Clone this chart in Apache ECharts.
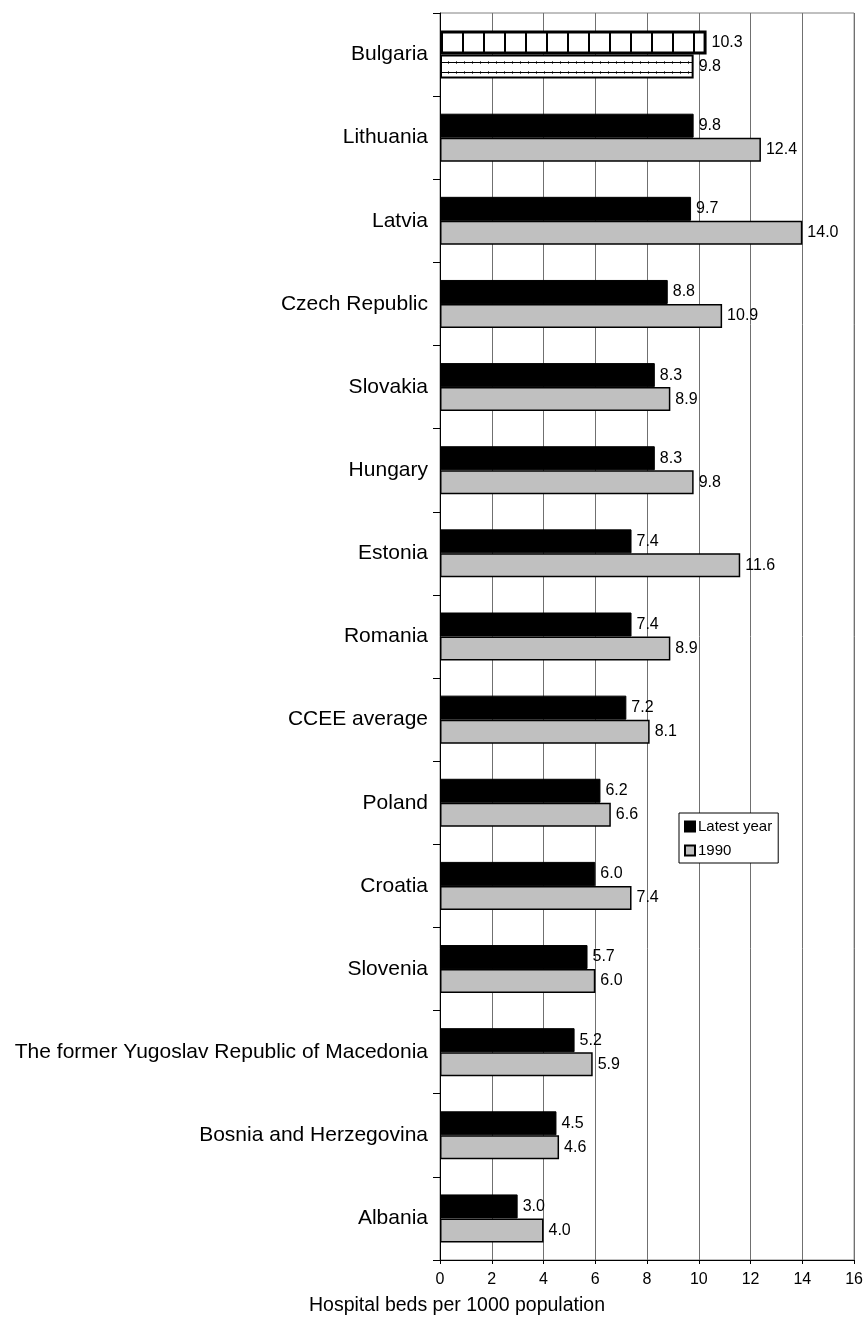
<!DOCTYPE html>
<html>
<head>
<meta charset="utf-8">
<script src="https://cdn.jsdelivr.net/npm/echarts@6/dist/echarts.min.js"></script>
<style>
html,body{margin:0;padding:0;background:#fff;}
#c{width:866px;height:1331px;}
</style>
</head>
<body>
<div id="c"></div>
<script>
const categories = ["Bulgaria","Lithuania","Latvia","Czech Republic","Slovakia","Hungary","Estonia","Romania","CCEE average","Poland","Croatia","Slovenia","The former Yugoslav Republic of Macedonia","Bosnia and Herzegovina","Albania"];
const latestYear = [10.3, 9.8, 9.7, 8.8, 8.3, 8.3, 7.4, 7.4, 7.2, 6.2, 6.0, 5.7, 5.2, 4.5, 3.0];
const year1990 = [9.8, 12.4, 14.0, 10.9, 8.9, 9.8, 11.6, 8.9, 8.1, 6.6, 7.4, 6.0, 5.9, 4.6, 4.0];
const seriesNames = ["Latest year", "1990"];
const axisTitle = "Hospital beds per 1000 population";

function vPattern() {
  const c = document.createElement('canvas');
  c.width = 21; c.height = 10;
  const g = c.getContext('2d');
  g.fillStyle = '#fff'; g.fillRect(0,0,21,10);
  g.fillStyle = '#000'; g.fillRect(0,0,2,10);
  return c;
}
function hPattern() {
  const c = document.createElement('canvas');
  c.width = 8; c.height = 10;
  const g = c.getContext('2d');
  g.fillStyle = '#fff'; g.fillRect(0,0,8,10);
  g.fillStyle = '#000'; g.fillRect(0,2,8,1);
  g.fillStyle = '#666'; g.fillRect(0,1,1,1); g.fillRect(0,3,1,1);
  return c;
}

const FONT = 'Liberation Sans, Arial, sans-serif';
const labelOpt = {show:true, position:'right', distance:5, fontFamily:FONT, fontSize:16, color:'#000', formatter: p => p.value.toFixed(1)};

const latestData = latestYear.map((v,i) => i === 0 ? {value:v, itemStyle:{color:{image:vPattern(), repeat:'repeat'}, borderColor:'#000', borderWidth:3}} : v);
const d1990 = year1990.map((v,i) => i === 0 ? {value:v, itemStyle:{color:{image:hPattern(), repeat:'repeat'}, borderColor:'#000', borderWidth:2}} : v);

const chart = echarts.init(document.getElementById('c'), null, {renderer:'canvas'});
chart.setOption({
  backgroundColor:'#fff',
  animation:false,
  textStyle:{fontFamily:FONT},
  grid:{left:440, right:10, top:13, bottom:71, show:true, borderColor:'#808080', borderWidth:1, containLabel:false},
  legend:{
    data:seriesNames, orient:'vertical', left:679, top:813,
    icon:'rect', itemWidth:10, itemHeight:10, itemGap:9,
    padding:[6,6,5,5], borderColor:'#000', borderWidth:1, backgroundColor:'#fff',
    textStyle:{fontSize:15, color:'#000', fontFamily:FONT, padding:[0,0,0,-2]}
  },
  xAxis:{
    type:'value', min:0, max:16, interval:2,
    axisLine:{show:true, lineStyle:{color:'#000'}},
    axisTick:{show:true, length:4, lineStyle:{color:'#000'}},
    axisLabel:{fontSize:16, color:'#000', margin:12, fontFamily:FONT},
    splitLine:{show:true, lineStyle:{color:'#707070', width:1}}
  },
  yAxis:{
    type:'category', data:categories, inverse:true,
    axisLine:{show:true, lineStyle:{color:'#000'}},
    axisTick:{show:true, length:7, lineStyle:{color:'#000'}},
    axisLabel:{fontSize:21, color:'#000', margin:12, fontFamily:FONT}
  },
  series:[
    {name:seriesNames[0], type:'bar', data:latestData, barWidth:24, barGap:'0%',
     itemStyle:{color:'#000', borderColor:'#000', borderWidth:1}, label:labelOpt},
    {name:seriesNames[1], type:'bar', data:d1990, barWidth:24, barGap:'0%',
     itemStyle:{color:'#c0c0c0', borderColor:'#000', borderWidth:1.5}, label:labelOpt}
  ],
  graphic:[{type:'text', x:457, y:1306, style:{text:axisTitle, fontSize:19.5, fill:'#000', fontFamily:FONT, align:'center', verticalAlign:'middle'}}]
});
</script>
</body>
</html>
